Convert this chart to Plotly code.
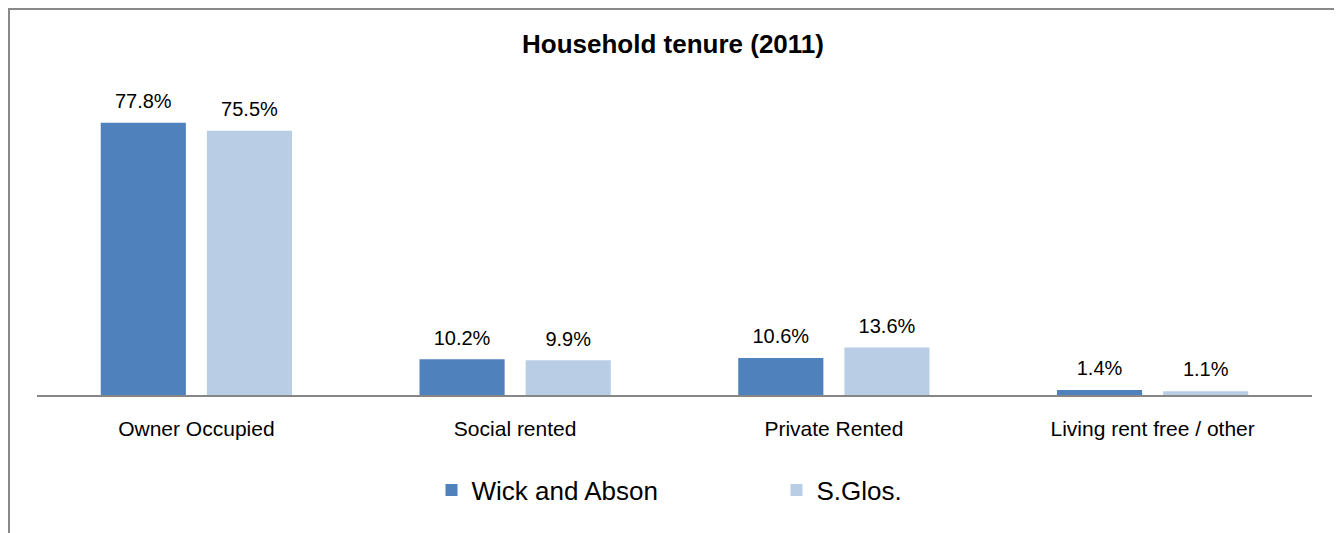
import plotly.graph_objects as go

categories = ["Owner Occupied", "Social rented", "Private Rented", "Living rent free / other"]
wick_and_abson = [77.8, 10.2, 10.6, 1.4]
s_glos = [75.5, 9.9, 13.6, 1.1]
series_names = ["Wick and Abson", "S.Glos."]
colors = ["#4F81BD", "#B9CDE5"]

FONT = "Liberation Sans, Arial, sans-serif"

fig = go.Figure()
for name, vals, col in zip(series_names, [wick_and_abson, s_glos], colors):
    fig.add_trace(go.Bar(
        name=name, x=categories, y=vals,
        marker=dict(color=col, line=dict(width=0)),
    ))
# data labels placed with grouped scatter so they follow the bar offsets
for name, vals in zip(series_names, [wick_and_abson, s_glos]):
    fig.add_trace(go.Scatter(
        x=categories, y=vals, mode="markers+text",
        text=[f"{v:.1f}%" for v in vals],
        textposition="top center",
        textfont=dict(family=FONT, size=20, color="#000000"),
        marker=dict(size=14, opacity=0),
        showlegend=False, hoverinfo="skip", cliponaxis=False,
    ))

fig.update_layout(
    width=1342, height=533,
    paper_bgcolor="white", plot_bgcolor="white",
    margin=dict(l=29, r=38, t=72, b=146),
    barmode="group", bargap=0.334, bargroupgap=0.198,
    scattermode="group", scattergap=0.334,
    title=dict(text="<b>Household tenure (2011)</b>", x=(673 - 8) / 1342, xanchor="center",
               y=1 - 36 / 533, yanchor="middle", yref="container",
               font=dict(family=FONT, size=26, color="#000000")),
    font=dict(family=FONT, color="#000000"),
    showlegend=True,
    legend=dict(orientation="h", x=0.580, xanchor="center", y=-0.302, yanchor="middle",
                font=dict(family=FONT, size=26, color="#000000"),
                entrywidth=300, traceorder="normal"),
    xaxis=dict(showline=True, linecolor="#868686", linewidth=2, ticks="",
               tickfont=dict(family=FONT, size=21, color="#000000"),
               ticklabelstandoff=14, showgrid=False, zeroline=False),
    yaxis=dict(range=[0, 90], visible=False, showgrid=False, zeroline=False),
    shapes=[dict(type="rect", xref="paper", yref="paper",
                 x0=-28 / 1275, x1=(1341 - 37) / 1275,
                 y0=-1, y1=(387 - 1) / 315,
                 line=dict(color="#898989", width=2), fillcolor="rgba(0,0,0,0)",
                 layer="below")],
)

fig.write_html("out.html")
